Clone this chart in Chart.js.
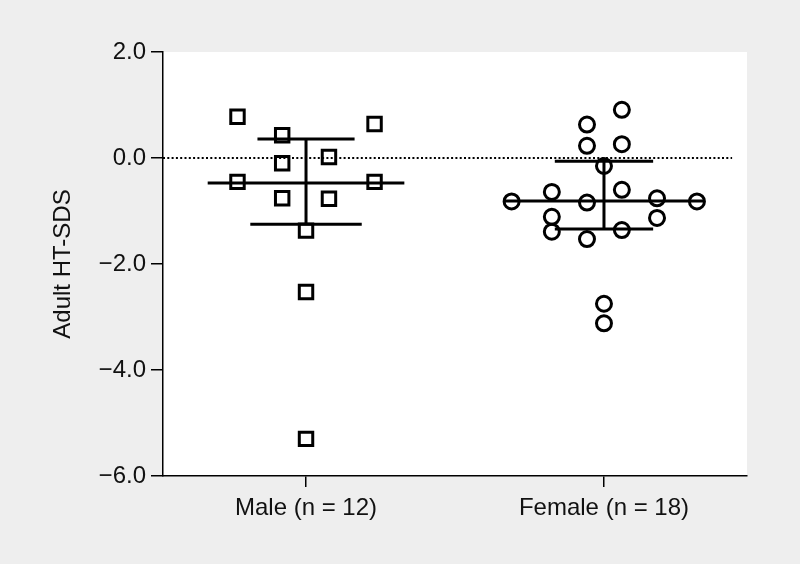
<!DOCTYPE html>
<html lang="en">
<head>
  <meta charset="UTF-8">
  <title>Adult HT-SDS by sex</title>
  <script src="https://cdn.jsdelivr.net/npm/chart.js"></script>
  <style>
    body {
      margin: 0;
      padding: 0;
      background-color: #eeeeee;
    }
    .wrap {
      width: 800px;
      height: 564px;
      position: relative;
    }
  </style>
</head>
<body>
  <div class="wrap"><canvas id="chart"></canvas></div>

  <script>
    // Categories (x positions 1 and 2)
    const groups = ['Male (n = 12)', 'Female (n = 18)'];

    // Male values and their horizontal jitter within the column
    const maleValues  = [0.78, 0.43, 0.64, -0.10, 0.02, -0.45, -0.45, -0.76, -0.77, -1.37, -2.53, -5.30];
    const maleJitter  = [-0.23, -0.08, 0.23, -0.08, 0.077, -0.23, 0.23, -0.08, 0.077, 0, 0, 0];

    // Female values and jitter
    const femaleValues = [0.91, 0.63, 0.23, 0.26, -0.15, -0.60, -0.64, -0.82, -0.84, -0.76, -0.82, -1.11, -1.13, -1.39, -1.36, -1.53, -2.75, -3.12];
    const femaleJitter = [0.06, -0.057, -0.057, 0.06, 0, 0.06, -0.175, -0.31, -0.057, 0.178, 0.312, -0.175, 0.178, -0.175, 0.06, -0.057, 0, 0];

    // Median and interquartile range per group
    const medians = [-0.47, -0.81];
    const upperQ  = [0.36, -0.06];
    const lowerQ  = [-1.25, -1.34];

    // y axis ticks
    const yTicks = [2, 0, -2, -4, -6];

    // half widths of the summary bars (x units)
    const medianHalf = [0.33, 0.336];
    const upperHalf = [0.163, 0.165];
    const lowerHalf = [0.187, 0.165];

    const xMin = 0.52, xMax = 2.48;

    const fmt = v => (v < 0 ? '\u2212' : '') + Math.abs(v).toFixed(1);

    function pts(values, jitter, pos) {
      return values.map((v, i) => ({ x: pos + jitter[i], y: v }));
    }

    function hLine(pos, y, half) {
      return {
        type: 'line',
        data: [{ x: pos - half, y: y }, { x: pos + half, y: y }],
        borderColor: '#000',
        borderWidth: 3,
        pointRadius: 0,
        showLine: true,
        fill: false
      };
    }

    const summary = [];
    groups.forEach((g, i) => {
      const pos = i + 1;
      summary.push(hLine(pos, medians[i], medianHalf[i]));
      summary.push(hLine(pos, upperQ[i], upperHalf[i]));
      summary.push(hLine(pos, lowerQ[i], lowerHalf[i]));
      summary.push({
        type: 'line',
        data: [{ x: pos, y: upperQ[i] }, { x: pos, y: lowerQ[i] }],
        borderColor: '#000',
        borderWidth: 3,
        pointRadius: 0,
        showLine: true
      });
    });

    // white plot area
    const plotBg = {
      id: 'plotBg',
      beforeDraw(chart) {
        const { ctx, chartArea } = chart;
        ctx.save();
        ctx.fillStyle = '#ffffff';
        ctx.fillRect(chartArea.left, chartArea.top, chartArea.right - chartArea.left, chartArea.bottom - chartArea.top);
        ctx.restore();
      }
    };

    Chart.defaults.font.family = "'Liberation Sans', Arial, sans-serif";
    Chart.defaults.color = '#111';

    new Chart(document.getElementById('chart'), {
      type: 'scatter',
      data: {
        datasets: [
          ...summary,
          {
            label: 'Male',
            data: pts(maleValues, maleJitter, 1),
            pointStyle: 'rect',
            pointRadius: 9.5,
            borderColor: '#000',
            backgroundColor: 'rgba(0,0,0,0)',
            borderWidth: 3
          },
          {
            label: 'Female',
            data: pts(femaleValues, femaleJitter, 2),
            pointStyle: 'circle',
            pointRadius: 7.5,
            borderColor: '#000',
            backgroundColor: 'rgba(0,0,0,0)',
            borderWidth: 3
          },
          {
            type: 'line',
            label: 'zero',
            data: [{ x: xMin, y: 0 }, { x: 2.43, y: 0 }],
            borderColor: '#000',
            borderWidth: 2,
            borderDash: [2, 2.3],
            pointRadius: 0,
            showLine: true
          }
        ]
      },
      options: {
        responsive: true,
        maintainAspectRatio: false,
        animation: false,
        layout: { padding: { top: 52, right: 53, left: 0, bottom: 0 } },
        plugins: {
          legend: { display: false },
          tooltip: { enabled: false }
        },
        scales: {
          x: {
            type: 'linear',
            min: xMin,
            max: xMax,
            afterBuildTicks: scale => { scale.ticks = groups.map((g, i) => ({ value: i + 1 })); },
            afterFit: scale => { scale.height = 88; },
            ticks: {
              callback: v => groups[Math.round(v) - 1],
              font: { size: 24 },
              color: '#111',
              padding: 7,
              maxRotation: 0
            },
            grid: { drawOnChartArea: false, drawTicks: true, tickLength: 11, color: '#000', lineWidth: 1.5 },
            border: { display: true, color: '#000', width: 1.5 }
          },
          y: {
            min: -6,
            max: 2,
            afterBuildTicks: scale => { scale.ticks = yTicks.map(v => ({ value: v })); },
            afterFit: scale => { scale.width = 163; },
            ticks: {
              callback: v => fmt(v),
              font: { size: 24 },
              color: '#111',
              padding: 5
            },
            grid: { drawOnChartArea: false, drawTicks: true, tickLength: 12, color: '#000', lineWidth: 1.5 },
            border: { display: true, color: '#000', width: 1.5 },
            title: {
              display: true,
              text: 'Adult HT-SDS',
              font: { size: 24 },
              color: '#111',
              padding: { top: 49, bottom: 0 }
            }
          }
        }
      },
      plugins: [plotBg]
    });
  </script>
</body>
</html>
